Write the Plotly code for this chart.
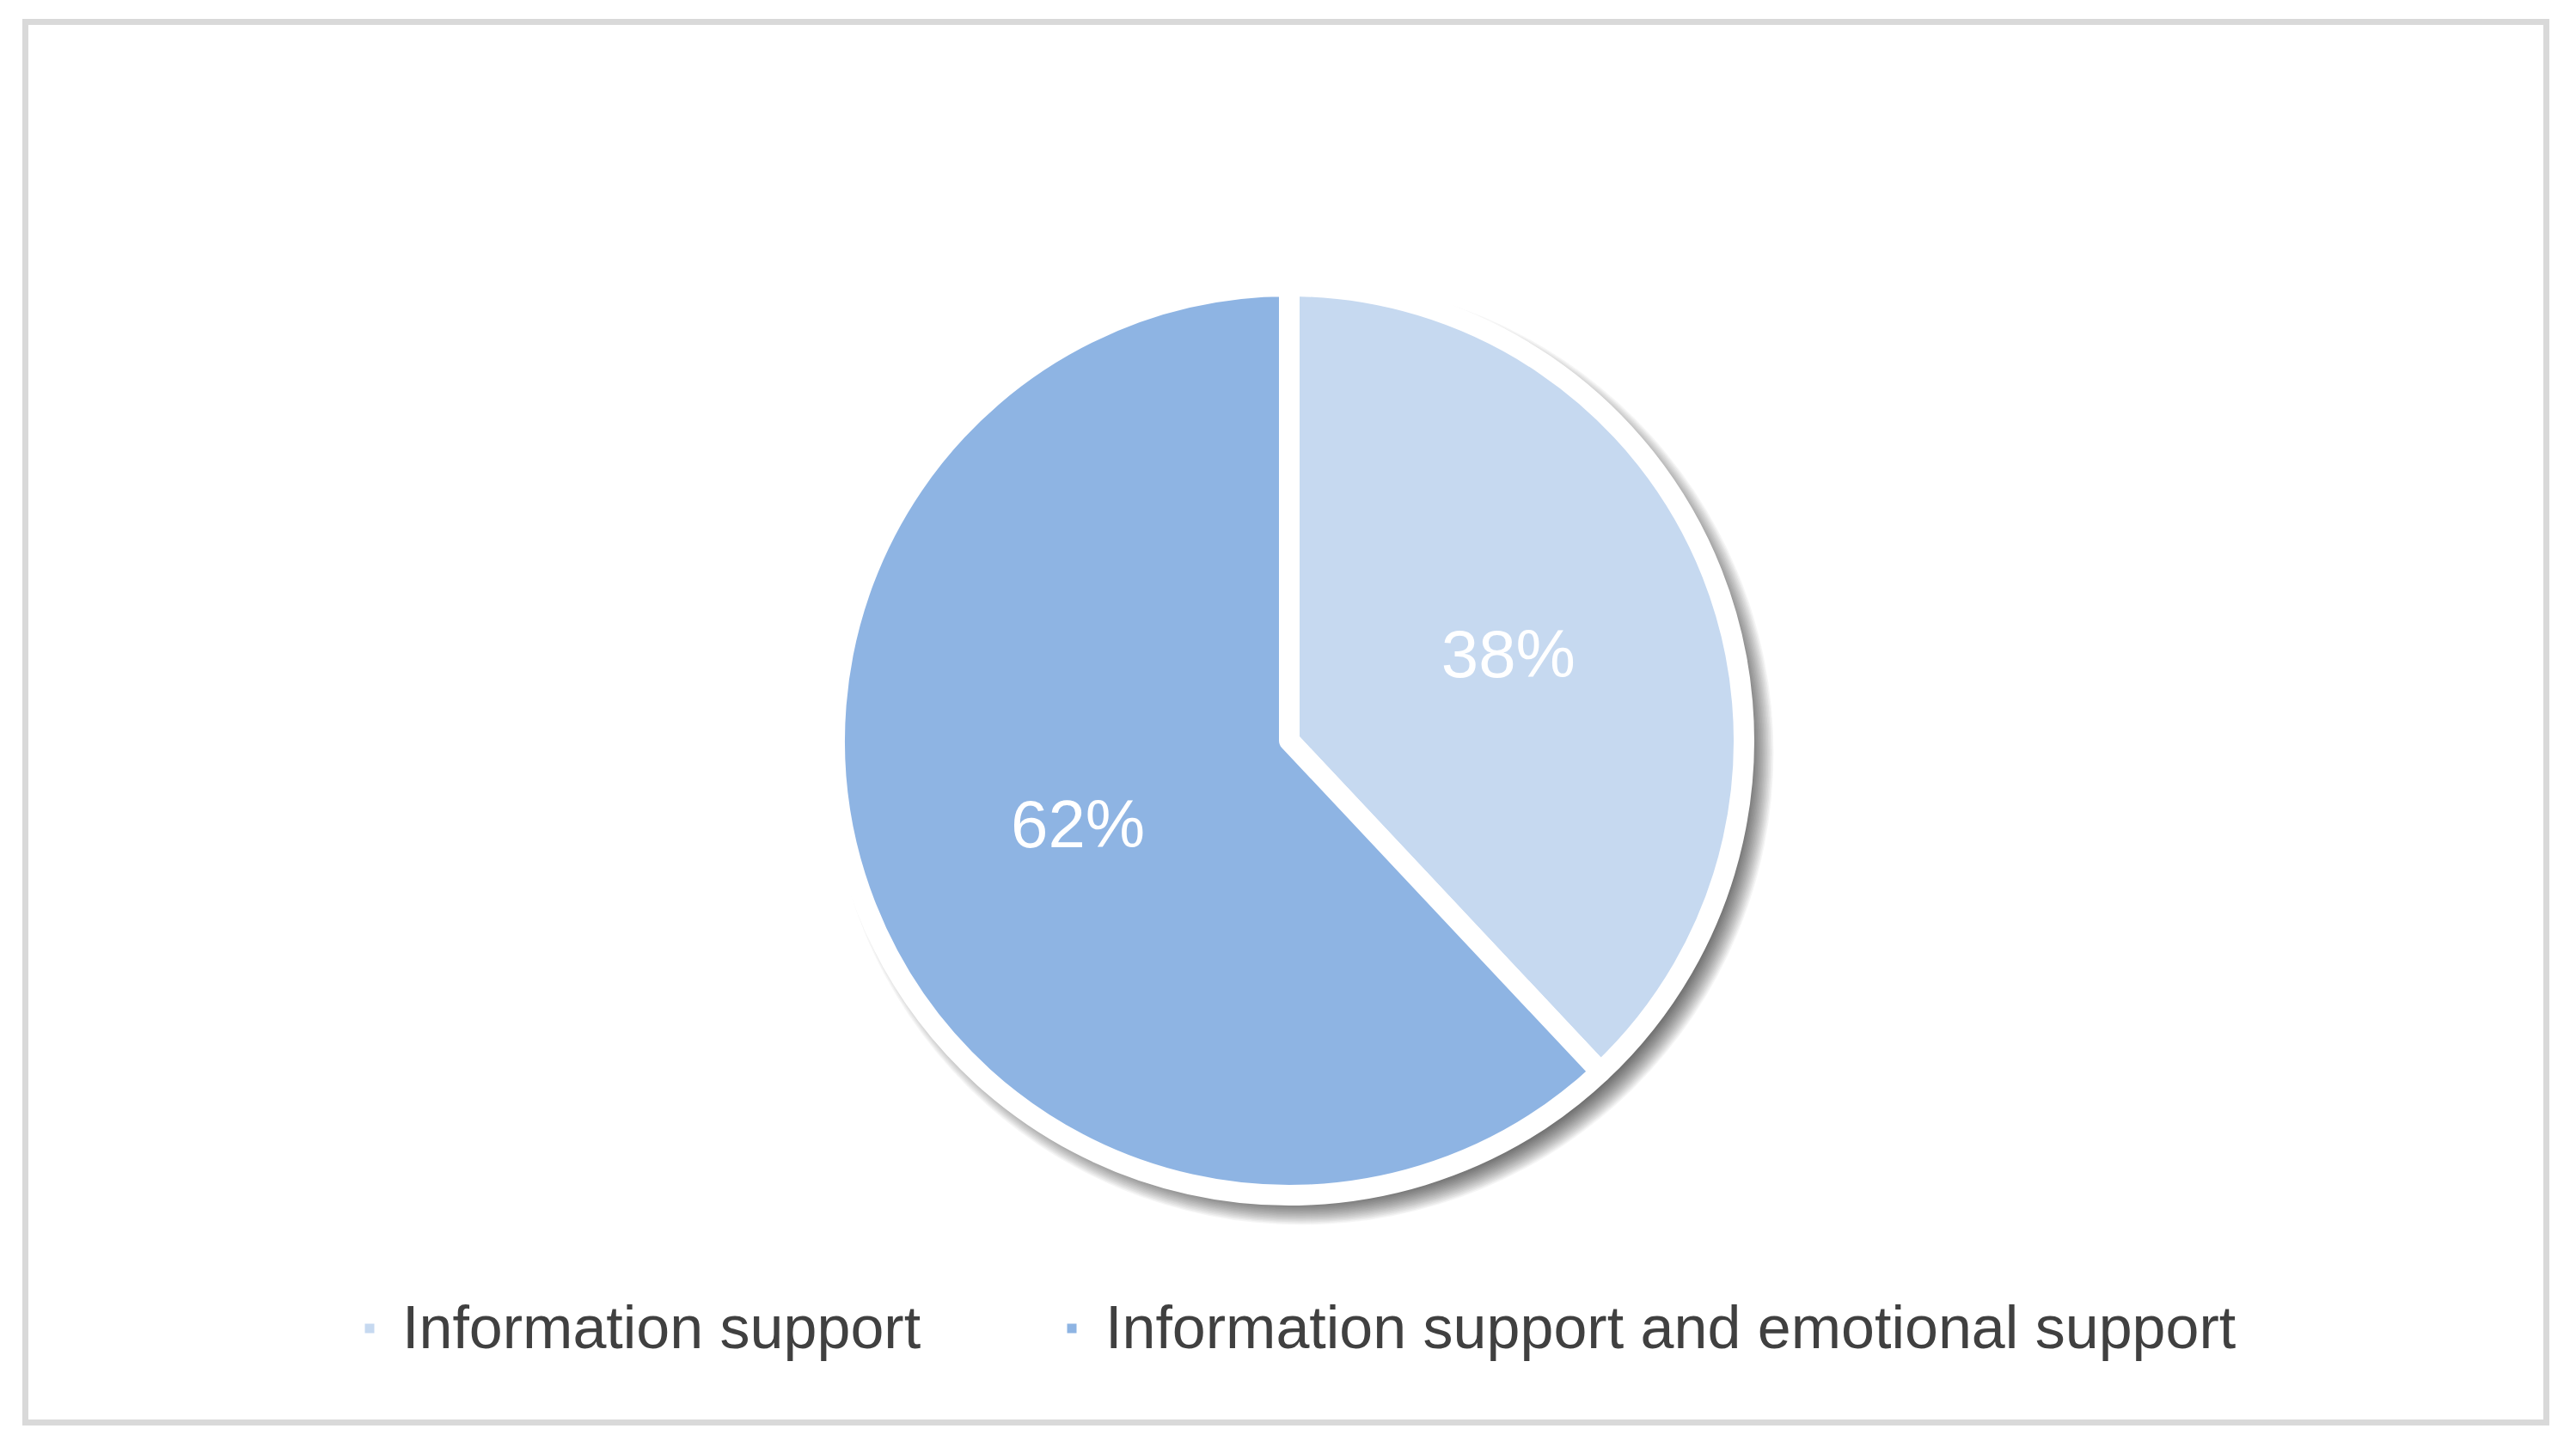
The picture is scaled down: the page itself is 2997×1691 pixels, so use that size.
import plotly.graph_objects as go

# window size; the page body has an 8px default margin, so the figure is drawn a bit smaller
W, H = 2997, 1691
OFF = 8
FW, FH = W - 2 * OFF, H - 2 * OFF

labels = ["Information support", "Information support and emotional support"]
values = [38, 62]
colors = ["#C6D9F0", "#8EB4E3"]


def fx(x):
    return (x - OFF) / FW


def fy(y):
    return 1 - (y - OFF) / FH


# pie geometry (window px, from top-left)
cx, cy = 1500, 862
r_path = 529
sep = 24

dom_x = [fx(cx - 600), fx(cx + 600)]
dom_y = [fy(cy + r_path), fy(cy - r_path)]

fig = go.Figure()
fig.add_trace(go.Pie(
    labels=labels,
    values=values,
    sort=False,
    direction="clockwise",
    rotation=0,
    domain=dict(x=dom_x, y=dom_y),
    marker=dict(colors=colors, line=dict(color="white", width=sep)),
    textinfo="percent",
    textposition="inside",
    insidetextorientation="horizontal",
    textfont=dict(family="Liberation Sans, Arial", size=78, color="white"),
    hoverinfo="label+percent",
    showlegend=False,
))

shapes = []
# soft drop shadow behind the pie (stacked translucent discs)
off = 14
for k in range(24):
    rr = 515 + 1.5 * k
    shapes.append(dict(
        type="circle", layer="below",
        xref="paper", yref="paper",
        xsizemode="pixel", ysizemode="pixel",
        xanchor=fx(cx), yanchor=fy(cy),
        x0=-rr + off, x1=rr + off, y0=-rr - off, y1=rr - off,
        fillcolor="black", opacity=0.04, line=dict(width=0),
    ))
# frame
shapes.append(dict(
    type="rect", xref="paper", yref="paper",
    x0=fx(29.5), x1=fx(2962.5), y0=fy(1655.5), y1=fy(25.5),
    line=dict(color="#D9D9D9", width=7), fillcolor="rgba(0,0,0,0)",
))

# legend drawn as small squares + text
leg_y = 1546
leg_marker_x = [430, 1247]
leg_text_x = [466, 1284]
annotations = []
for lab, col, mx, tx in zip(labels, colors, leg_marker_x, leg_text_x):
    shapes.append(dict(
        type="rect", xref="paper", yref="paper",
        xsizemode="pixel", ysizemode="pixel",
        xanchor=fx(mx), yanchor=fy(leg_y),
        x0=-5.5, x1=5.5, y0=-5.5, y1=5.5,
        fillcolor=col, line=dict(width=0),
    ))
    annotations.append(dict(
        text=lab, xref="paper", yref="paper",
        x=fx(tx), y=fy(leg_y - 1), xanchor="left", yanchor="middle",
        showarrow=False,
        font=dict(family="Liberation Sans, Arial", size=70, color="#404040"),
    ))

fig.update_layout(
    width=FW, height=FH,
    margin=dict(l=0, r=0, t=0, b=0),
    paper_bgcolor="white",
    plot_bgcolor="white",
    shapes=shapes,
    annotations=annotations,
    showlegend=False,
)

fig.write_html("out.html")
